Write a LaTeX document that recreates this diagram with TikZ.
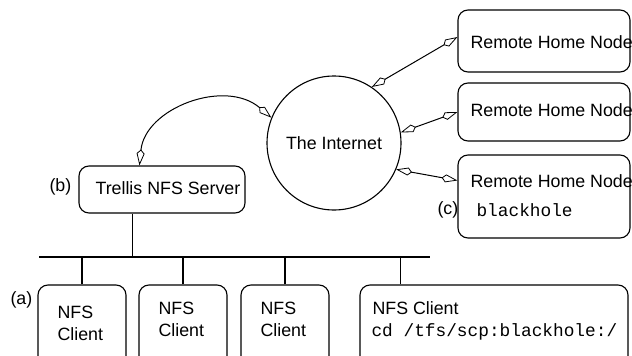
\documentclass[tikz,border=0pt]{standalone}
\usepackage{fontspec}
\setmainfont{Liberation Sans}
\setmonofont{Liberation Mono}
\usetikzlibrary{arrows.meta,calc}
\begin{document}
\begin{tikzpicture}[x=1pt,y=-1pt, line width=1.1pt,
  box/.style={draw, rounded corners=10pt, inner sep=0pt},
  txt/.style={inner sep=0pt, anchor=west, font=\fontsize{17.8}{20}\selectfont},
  mono/.style={inner sep=0pt, anchor=west, font=\fontsize{17.8}{20}\selectfont\ttfamily},
  kite/.tip={Kite[open,length=16pt,width=8pt,inset=4pt,line width=0.8pt]},
  link/.style={{kite}-{kite}, line width=1pt}
]
\clip (0,0) rectangle (632,356);
% boxes
\node[box, minimum width=172pt, minimum height=62pt] (r1) at (544,41) {};
\node[box, minimum width=172pt, minimum height=58pt] (r2) at (544,112) {};
\node[box, minimum width=172pt, minimum height=83pt] (r3) at (544,196.5) {};
\node[box, minimum width=166pt, minimum height=47pt] (srv) at (162,189.5) {};
\node[box, minimum width=88pt, minimum height=90pt] (c1) at (82,330) {};
\node[box, minimum width=88pt, minimum height=90pt] (c2) at (183,330) {};
\node[box, minimum width=88pt, minimum height=90pt] (c3) at (285,330) {};
\node[box, minimum width=268pt, minimum height=90pt] (c4) at (494,330) {};
\node[draw, circle, minimum size=134pt, inner sep=0pt, font=\fontsize{17.8}{20}\selectfont] (inet) at (334,143) {The Internet};
% texts
\node[txt] (tsrv) at (95,188) {Trellis NFS Server};
\node[txt] (t1) at (470,42) {Remote Home Node};
\node[txt] (t2) at (470,110) {Remote Home Node};
\node[txt] (t3) at (470,181) {Remote Home Node};
\node[mono] (t3b) at (476,210) {blackhole};
\node[txt] (c1a) at (57,312) {NFS};
\node[txt] (c1b) at (57,334) {Client};
\node[txt] (c2a) at (158,308) {NFS};
\node[txt] (c2b) at (158,330) {Client};
\node[txt] (c3a) at (260,308) {NFS};
\node[txt] (c3b) at (260,330) {Client};
\node[txt] (c4a) at (372,308) {NFS Client};
\node[mono] (c4b) at (371,332) {cd /tfs/scp:blackhole:/};
\node[txt] (la) at (10,300) {(a)};
\node[txt] (lb) at (49,187) {(b)};
\node[txt] (lc) at (437,210) {(c)};
% links
\draw[link] (inet.56) -- ($(r1.west)+(0,-4)$);
\draw[link] (inet.9) -- (r2.west);
\draw[link] (inet.-23) -- ($(r3.west)+(0,-16)$);
\draw[link] ($(srv.north west)+(61,0)$) .. controls (145,108) and (225,78) .. (inet.158);
% bus
\coordinate (busL) at (39,257);
\coordinate (busR) at (430,257);
\draw (busL) -- (busR);
\draw ($(srv.south west)+(54,0)$) coordinate (s0) -- (s0 |- busL);
\draw (c1.north) -- (c1.north |- busL);
\draw (c2.north) -- (c2.north |- busL);
\draw (c3.north) -- (c3.north |- busL);
\draw ($(c4.north west)+(41,0)$) coordinate (d4) -- (d4 |- busL);
\end{tikzpicture}
\end{document}
